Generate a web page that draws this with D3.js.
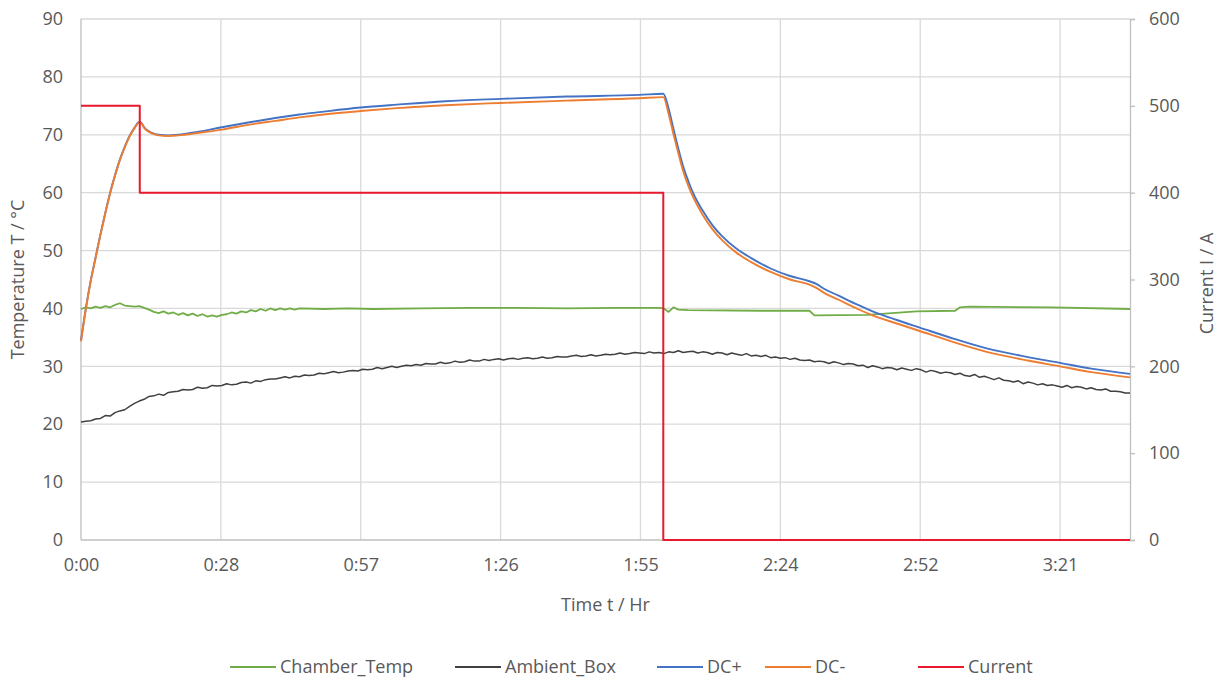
<!DOCTYPE html>
<html>
<head>
<meta charset="utf-8">
<script src="https://cdn.jsdelivr.net/npm/d3@7"></script>
<style>
  html, body { margin: 0; padding: 0; background: #ffffff; }
  svg { display: block; font-family: "Open Sans", "Liberation Sans", sans-serif; }
</style>
</head>
<body>
<svg id="chart" width="1225" height="682"></svg>
<script>
// ---------------- DATA ----------------
// x axis in minutes since start
const xTickValues = [0, 28.8, 57.6, 86.4, 115.2, 144, 172.8, 201.6];
const xTickLabels = ["0:00", "0:28", "0:57", "1:26", "1:55", "2:24", "2:52", "3:21"];
const xMaxMin = 216;
const leftTicks = [0, 10, 20, 30, 40, 50, 60, 70, 80, 90];
const rightTicks = [0, 100, 200, 300, 400, 500, 600];
const seriesNames = ["Chamber_Temp", "Ambient_Box", "DC+", "DC-", "Current"];
const seriesColors = ["#70AD47", "#404040", "#4472C4", "#ED7D31", "#E8192C"];

// Chamber_Temp [minute, °C]
const chamberTemp = [
  [0,39.9],[1,40.2],[2,40.0],[3,40.3],[4,40.1],[5,40.4],[6,40.2],[7,40.6],[8,40.9],[9,40.5],
  [10,40.4],[11,40.3],[12,40.4],[13,40.1],[14,39.8],[15,39.4],[16,39.2],[17,39.5],[18,39.1],[19,39.3],
  [20,38.9],[21,39.2],[22,38.8],[23,39.1],[24,38.7],[25,39.0],[26,38.6],[27,38.8],[28,38.6],[29,38.9],
  [30,39.0],[31,39.3],[32,39.1],[33,39.5],[34,39.3],[35,39.7],[36,39.5],[37,39.9],[38,39.6],[39,40.0],
  [40,39.7],[41,40.0],[42,39.8],[43,40.0],[44,39.8],[45,40.0],[50,39.9],[55,40.0],[60,39.9],[70,40.0],
  [80,40.1],[90,40.1],[100,40.0],[110,40.1],[119,40.1],[120,40.0],[121,39.4],[122,40.2],[123,39.8],[125,39.7],
  [140,39.6],[150,39.6],[151,38.8],[162,38.9],[172,39.5],[180,39.6],[181,40.2],[183,40.3],[200,40.2],[216,39.9]
];

// Ambient_Box, one reading per minute from 0 to 216 min
const ambientStepMin = 1;
const ambientBox = [
  20.4,20.5,20.6,20.9,21.0,21.5,21.4,22.0,22.3,22.5,
  23.1,23.6,24.0,24.3,24.8,24.9,25.2,25.0,25.5,25.6,
  25.7,26.0,25.9,26.0,26.4,26.2,26.3,26.7,26.6,26.7,
  27.0,26.8,26.9,27.2,27.3,27.1,27.5,27.4,27.7,27.8,
  27.8,28.0,28.2,28.0,28.3,28.2,28.5,28.4,28.5,28.8,
  28.7,28.9,29.1,28.9,29.0,29.2,29.3,29.2,29.5,29.4,
  29.5,29.8,29.6,29.8,30.0,29.8,30.0,30.2,30.1,30.3,
  30.2,30.5,30.4,30.4,30.7,30.5,30.6,30.9,30.7,30.8,
  31.1,30.9,30.9,31.2,31.0,31.2,31.3,31.1,31.3,31.4,
  31.2,31.4,31.5,31.3,31.4,31.6,31.4,31.5,31.7,31.6,
  31.6,31.8,31.9,31.7,31.8,32.0,31.8,31.9,32.1,32.0,
  32.1,32.3,32.1,32.2,32.4,32.3,32.2,32.5,32.3,32.4,
  32.2,32.5,32.4,32.7,32.4,32.5,32.6,32.3,32.5,32.4,
  32.1,32.4,32.3,32.0,32.3,32.1,31.9,32.2,31.8,31.9,
  31.7,31.9,31.5,31.6,31.4,31.5,31.2,31.4,31.1,31.0,
  31.1,30.8,30.9,30.8,30.5,30.8,30.6,30.3,30.5,30.4,
  30.1,30.2,29.8,30.1,29.9,29.6,29.8,29.7,29.4,29.7,
  29.5,29.3,29.6,29.4,29.0,29.3,29.1,28.8,29.0,28.9,
  28.6,28.8,28.4,28.3,28.6,28.1,28.3,28.0,27.7,28.0,
  27.6,27.5,27.3,27.5,27.0,27.3,27.1,26.8,27.0,26.7,
  26.8,26.6,26.4,26.7,26.3,26.5,26.4,26.1,26.3,26.0,
  25.9,26.1,25.7,25.7,25.6,25.4,25.4
];

// DC+ [minute, °C]
const dcPlus = [
  [0,34.5],[1,40.0],[2,44.8],[3,48.8],[4,52.8],[5,56.5],[6,60.0],[7,63.0],[8,65.7],[9,67.9],
  [10,69.8],[11,71.2],[12,72.2],[12.5,72.0],[13,71.3],[14,70.6],[15,70.2],[16,70.0],[18,69.9],[20,70.0],
  [24,70.5],[29,71.3],[35,72.2],[40,72.9],[45,73.5],[50,74.0],[57.6,74.7],[65,75.2],[75,75.8],[86.4,76.2],
  [100,76.6],[115,76.9],[119.9,77.1],[121,74.5],[122,71.0],[123,67.6],[124,64.5],[125,62.1],[126,60.0],[128,56.9],
  [130,54.4],[132,52.5],[135,50.3],[138,48.7],[142,46.9],[146,45.6],[150,44.7],[151.5,44.2],[153,43.4],[156,42.2],
  [160,40.6],[163,39.5],[168,38.0],[172.7,36.7],[180,34.7],[186.5,33.1],[195,31.6],[201.6,30.6],[208,29.6],[216,28.7]
];

// DC- [minute, °C]
const dcMinus = [
  [0,34.3],[1,39.9],[2,44.7],[3,48.7],[4,52.7],[5,56.4],[6,59.9],[7,62.9],[8,65.6],[9,67.8],
  [10,69.7],[11,71.1],[12,72.1],[12.5,71.9],[13,71.2],[14,70.5],[15,70.1],[16,69.9],[18,69.8],[20,69.9],
  [24,70.3],[29,70.9],[35,71.8],[40,72.4],[45,73.0],[50,73.5],[57.6,74.1],[65,74.6],[75,75.1],[86.4,75.5],
  [100,75.9],[115,76.3],[119.9,76.5],[121,73.6],[122,70.1],[123,66.8],[124,63.7],[125,61.3],[126,59.3],[128,56.2],
  [130,53.7],[132,51.8],[135,49.6],[138,48.0],[142,46.3],[146,45.0],[150,44.1],[151.5,43.5],[153,42.7],[156,41.5],
  [160,39.9],[163,38.8],[168,37.4],[172.7,36.1],[180,34.1],[186.5,32.5],[195,31.0],[201.6,30.0],[208,29.0],[216,28.1]
];

// Current [minute, A]
const currentA = [[0,500],[12.1,500],[12.1,400],[119.9,400],[119.9,0],[216,0]];

// ---------------- LAYOUT ----------------
const plot = { left: 81, right: 1130, top: 19, bottom: 540 };
const textColor = "#595959";
const gridColor = "#D9D9D9";
const axisColor = "#BFBFBF";
const fontSize = 18;

const svg = d3.select("#chart");
const x = d3.scaleLinear().domain([0, xMaxMin]).range([plot.left, plot.right]);
const yL = d3.scaleLinear().domain([0, 90]).range([plot.bottom, plot.top]);
const yR = d3.scaleLinear().domain([0, 600]).range([plot.bottom, plot.top]);

// gridlines
const g = svg.append("g");
g.selectAll("line.hgrid").data(leftTicks.filter(d => d > 0)).join("line")
  .attr("x1", plot.left).attr("x2", plot.right)
  .attr("y1", d => yL(d)).attr("y2", d => yL(d))
  .attr("stroke", gridColor).attr("stroke-width", 1.3);
g.selectAll("line.vgrid").data(xTickValues.filter(d => d > 0)).join("line")
  .attr("x1", d => x(d)).attr("x2", d => x(d))
  .attr("y1", plot.top).attr("y2", plot.bottom)
  .attr("stroke", gridColor).attr("stroke-width", 1.3);

// axes lines
svg.append("line").attr("x1", plot.left).attr("x2", plot.left).attr("y1", plot.top).attr("y2", plot.bottom)
  .attr("stroke", axisColor).attr("stroke-width", 1.3);
svg.append("line").attr("x1", plot.left).attr("x2", plot.right).attr("y1", plot.bottom).attr("y2", plot.bottom)
  .attr("stroke", axisColor).attr("stroke-width", 1.3);

// left axis labels
const leftAxis = d3.axisLeft(yL).tickValues(leftTicks).tickSize(0).tickPadding(18);
const la = svg.append("g").attr("transform", `translate(${plot.left},0)`).call(leftAxis);
la.select(".domain").remove();
la.selectAll("text").attr("fill", textColor).style("font-size", fontSize + "px").style("font-family", "Open Sans");

// right axis
const rightAxis = d3.axisRight(yR).tickValues(rightTicks).tickSize(5).tickPadding(14);
const ra = svg.append("g").attr("transform", `translate(${plot.right},0)`).call(rightAxis);
ra.select(".domain").attr("stroke", axisColor).attr("stroke-width", 1.3);
ra.selectAll(".tick line").attr("stroke", axisColor).attr("stroke-width", 1.3);
ra.selectAll("text").attr("fill", textColor).style("font-size", fontSize + "px").style("font-family", "Open Sans");

// bottom axis labels
const bottomAxis = d3.axisBottom(x).tickValues(xTickValues).tickFormat((d, i) => xTickLabels[i]).tickSize(0).tickPadding(18);
const ba = svg.append("g").attr("transform", `translate(0,${plot.bottom})`).call(bottomAxis);
ba.select(".domain").remove();
ba.selectAll("text").attr("fill", textColor).style("font-size", fontSize + "px").style("font-family", "Open Sans");

// axis titles
svg.append("text").attr("transform", `translate(24,${(plot.top + plot.bottom) / 2}) rotate(-90)`)
  .attr("text-anchor", "middle").attr("fill", textColor).style("font-size", fontSize + "px")
  .text("Temperature T / °C");
svg.append("text").attr("transform", `translate(1213,${(plot.top + plot.bottom) / 2 + 4}) rotate(-90)`)
  .attr("text-anchor", "middle").attr("fill", textColor).style("font-size", fontSize + "px")
  .text("Current I / A");
svg.append("text").attr("x", (plot.left + plot.right) / 2).attr("y", 611)
  .attr("text-anchor", "middle").attr("fill", textColor).style("font-size", fontSize + "px")
  .text("Time t / Hr");

// lines
const lineL = d3.line().x(d => x(d[0])).y(d => yL(d[1]));
const lineSmooth = d3.line().x(d => x(d[0])).y(d => yL(d[1])).curve(d3.curveMonotoneX);
const lineR = d3.line().x(d => x(d[0])).y(d => yR(d[1]));
const ambientPts = ambientBox.map((v, i) => [i * ambientStepMin, v]);

const lines = svg.append("g").attr("fill", "none").attr("stroke-linejoin", "round");
lines.append("path").attr("d", lineL(chamberTemp)).attr("stroke", seriesColors[0]).attr("stroke-width", 1.8);
lines.append("path").attr("d", lineL(ambientPts)).attr("stroke", seriesColors[1]).attr("stroke-width", 1.5);
lines.append("path").attr("d", lineSmooth(dcPlus)).attr("stroke", seriesColors[2]).attr("stroke-width", 1.9);
lines.append("path").attr("d", lineSmooth(dcMinus)).attr("stroke", seriesColors[3]).attr("stroke-width", 1.9);
lines.append("path").attr("d", lineR(currentA)).attr("stroke", seriesColors[4]).attr("stroke-width", 2);

// legend
const legendX = [230, 455, 657, 765, 918];
const legendY = 667;
const leg = svg.append("g");
seriesNames.forEach((name, i) => {
  leg.append("line").attr("x1", legendX[i]).attr("x2", legendX[i] + 46)
    .attr("y1", legendY).attr("y2", legendY)
    .attr("stroke", seriesColors[i]).attr("stroke-width", 2);
  leg.append("text").attr("x", legendX[i] + 50).attr("y", legendY).attr("dy", "0.35em")
    .attr("fill", textColor).style("font-size", fontSize + "px").text(name);
});
</script>
</body>
</html>
